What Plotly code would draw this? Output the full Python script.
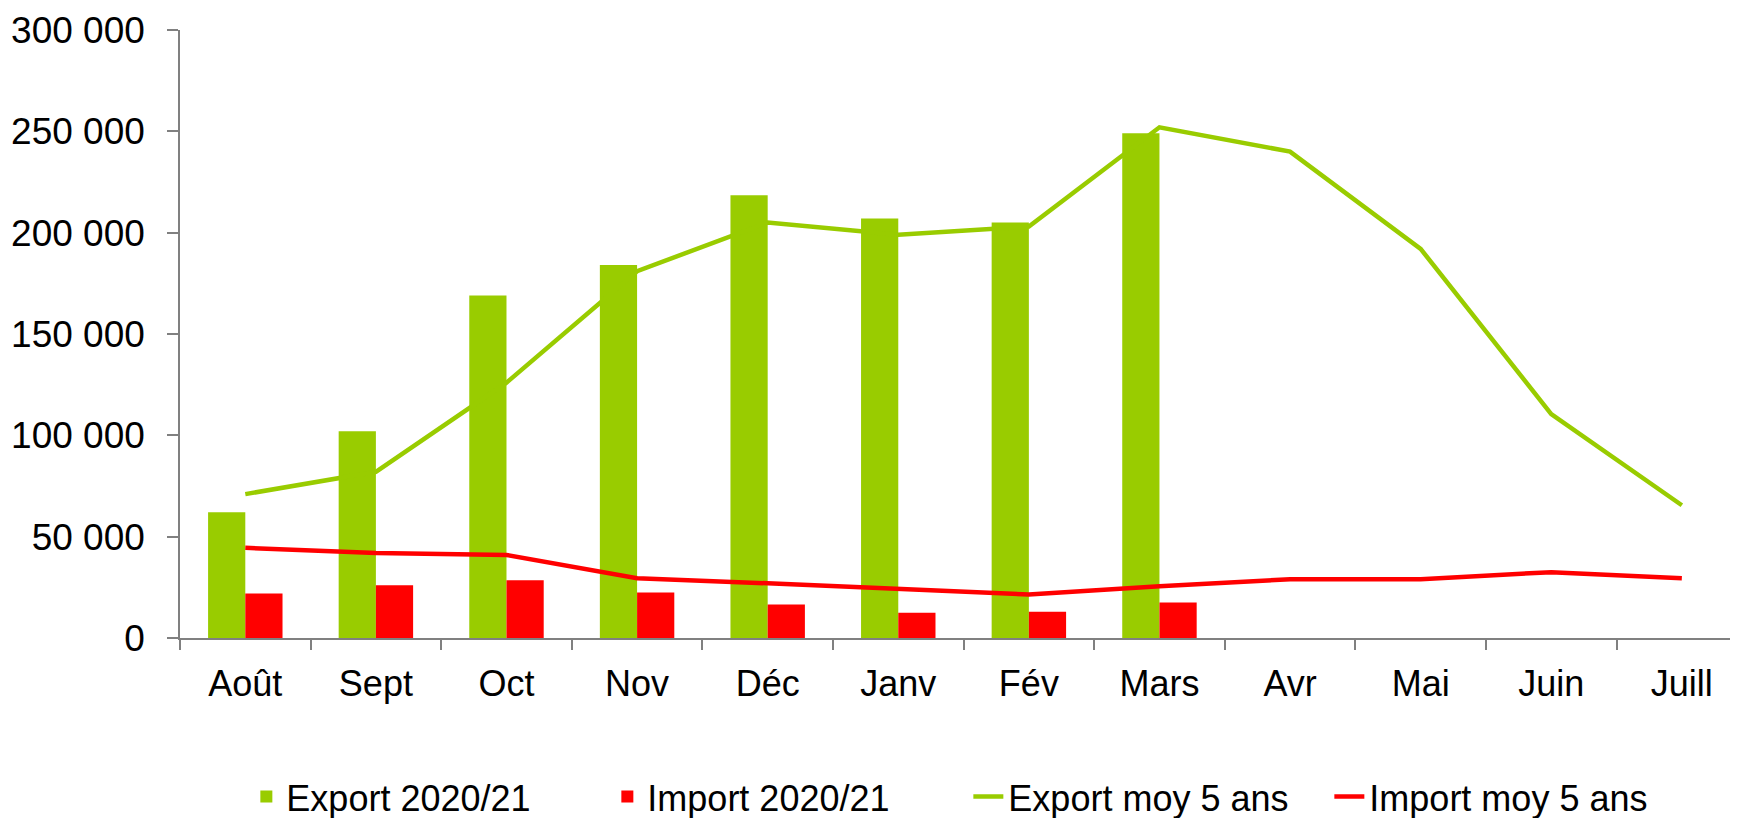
import plotly.graph_objects as go

months = ["Août", "Sept", "Oct", "Nov", "Déc", "Janv", "Fév", "Mars", "Avr", "Mai", "Juin", "Juill"]
export_2021 = [62000, 102000, 169000, 184000, 218500, 207000, 205000, 249000]
import_2021 = [22000, 26000, 28500, 22500, 16500, 12500, 13000, 17500]
export_moy5 = [71000, 82000, 126000, 181000, 205000, 199000, 203000, 252000, 240000, 192000, 110500, 65500]
import_moy5 = [44500, 42000, 41000, 29500, 27000, 24000, 21500, 25500, 29000, 29000, 32500, 29500]
y_ticks = [0, 50000, 100000, 150000, 200000, 250000, 300000]

GREEN = "#99CC00"
RED = "#FF0000"
FONT = "Liberation Sans, Arial, sans-serif"

fig = go.Figure()
fig.add_trace(go.Bar(x=months[:len(export_2021)], y=export_2021, name="Export 2020/21",
                     marker=dict(color=GREEN, line=dict(width=0))))
fig.add_trace(go.Bar(x=months[:len(import_2021)], y=import_2021, name="Import 2020/21",
                     marker=dict(color=RED, line=dict(width=0))))
fig.add_trace(go.Scatter(x=months, y=export_moy5, name="Export moy 5 ans", mode="lines",
                         line=dict(color=GREEN, width=4.5)))
fig.add_trace(go.Scatter(x=months, y=import_moy5, name="Import moy 5 ans", mode="lines",
                         line=dict(color=RED, width=4.5)))

fig.update_layout(
    width=1730, height=810,
    margin=dict(l=172, r=0, t=22, b=180, autoexpand=False),
    paper_bgcolor="white", plot_bgcolor="white",
    font=dict(family=FONT, size=36, color="black"),
    separators=", ",
    barmode="group", bargap=0.43, bargroupgap=0,
    showlegend=True,
    legend=dict(orientation="h", x=0.506, xanchor="center", y=-0.261, yanchor="middle",
                font=dict(family=FONT, size=36, color="black"),
                entrywidth=316, entrywidthmode="pixels",
                traceorder="normal", bgcolor="rgba(0,0,0,0)"),
)
fig.update_xaxes(
    type="category", categoryorder="array", categoryarray=months,
    range=[-0.5, 11.43],
    showline=True, linecolor="#808080", linewidth=1.5,
    ticks="outside", tickson="boundaries", ticklen=10, tickcolor="#808080", tickwidth=1.5,
    showgrid=False, zeroline=False,
    tickfont=dict(family=FONT, size=36, color="black"),
    ticklabelstandoff=13,
)
fig.update_yaxes(
    range=[0, 300000], tickvals=y_ticks, tickformat=",d",
    showline=True, linecolor="#808080", linewidth=1.5,
    ticks="outside", ticklen=11, tickcolor="#808080", tickwidth=1.5,
    showgrid=False, zeroline=False,
    tickfont=dict(family=FONT, size=37, color="black"),
    ticklabelstandoff=15,
)

fig.write_html("out.html")
